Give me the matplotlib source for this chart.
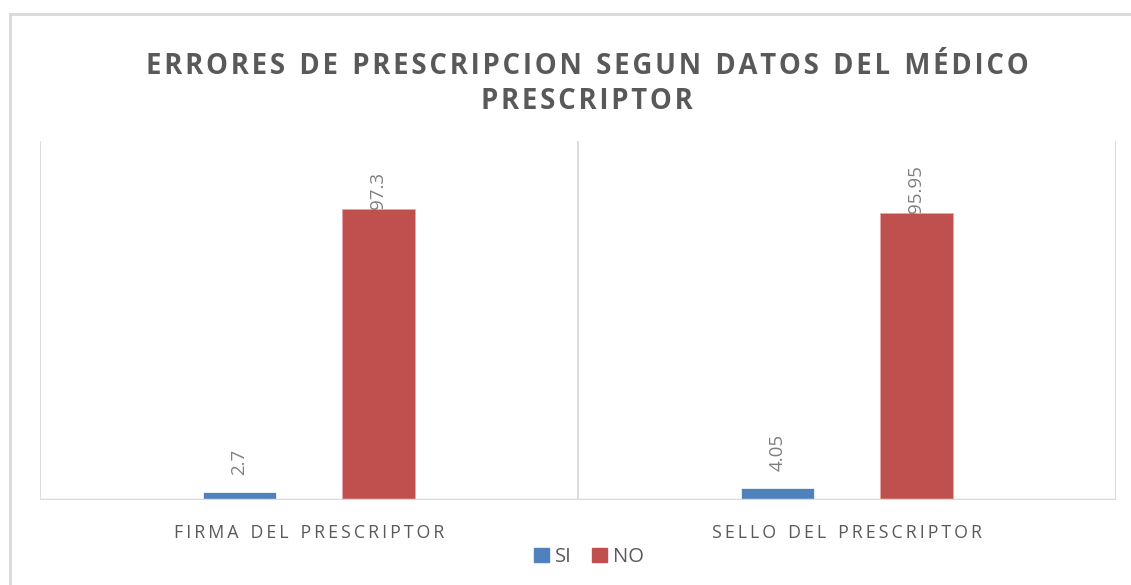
import numpy as np
import matplotlib.pyplot as plt
from matplotlib.patches import Patch
from matplotlib.lines import Line2D

categories = ['FIRMA DEL PRESCRIPTOR', 'SELLO DEL PRESCRIPTOR']
series_names = ['SI', 'NO']
si_values = [2.7, 4.05]
no_values = [97.3, 95.95]
si_labels = ['2.7', '4.05']
no_labels = ['97.3', '95.95']

BLUE = '#4F81BD'
RED = '#C0504D'
GRID = '#D9D9D9'
TEXT = '#595959'


def spaced(s, sep='\u2009'):
    return sep.join(s).replace(sep + ' ' + sep, sep * 4)


def hair(s):
    return '\u200a'.join(s).replace('\u200a \u200a', '  ')


plt.rcParams['font.family'] = ['Open Sans', 'DejaVu Sans']

fig = plt.figure(figsize=(11.31, 5.85), dpi=100)
ax = fig.add_axes([40 / 1131, 85 / 585, 1076 / 1131, 359 / 585])

x = np.arange(len(categories))
off = 0.129
w = 0.135
b1 = ax.bar(x - off, si_values, w, color=BLUE, edgecolor='white', linewidth=0.5)
b2 = ax.bar(x + off, no_values, w, color=RED, edgecolor='#E8A8A6', linewidth=0.5)

# Excel put the small labels a bit higher than the tall ones
for rects, labels, pad in ((b1, si_labels, 12), (b2, no_labels, 0)):
    for r, lab in zip(rects, labels):
        ax.annotate(lab, (r.get_x() + r.get_width() / 2, r.get_height()),
                    xytext=(0, pad), textcoords='offset points', rotation=90,
                    ha='center', va='bottom', fontsize=13.5, color='#7F7F7F')

ax.set_xlim(-0.5, len(categories) - 0.5)
ax.set_ylim(0, 120)
for xv in np.arange(-0.5, len(categories), 1.0):
    ax.axvline(xv, color=GRID, lw=1.3, zorder=0)
for s in ax.spines.values():
    s.set_visible(False)
ax.axhline(0, color=GRID, lw=2.5, zorder=3)
ax.set_yticks([])
ax.set_xticks(x)
ax.set_xticklabels([spaced(c) for c in categories], fontsize=12.8, color=TEXT)
ax.tick_params(axis='x', length=0, pad=17)

fig.text(0.519, 0.886, hair('ERRORES DE PRESCRIPCION SEGUN DATOS DEL MÉDICO'),
         ha='center', va='center', fontsize=19.8, fontweight='bold', color=TEXT)
fig.text(0.519, 0.826, hair('PRESCRIPTOR'),
         ha='center', va='center', fontsize=19.8, fontweight='bold', color=TEXT)

handles = [Patch(color=BLUE), Patch(color=RED)]
fig.legend(handles, series_names, loc='center', bbox_to_anchor=(0.521, 0.048),
           ncol=2, frameon=False, fontsize=14.5, labelcolor=TEXT,
           handlelength=0.75, handleheight=0.75, handletextpad=0.3,
           columnspacing=1.0)

fig.add_artist(Line2D([10 / 1131, 1], [1 - 14 / 585, 1 - 14 / 585],
                      transform=fig.transFigure, color=GRID, lw=2))
fig.add_artist(Line2D([10 / 1131, 10 / 1131], [0, 1 - 14 / 585],
                      transform=fig.transFigure, color=GRID, lw=2))

fig.savefig('out.png', dpi=100)
